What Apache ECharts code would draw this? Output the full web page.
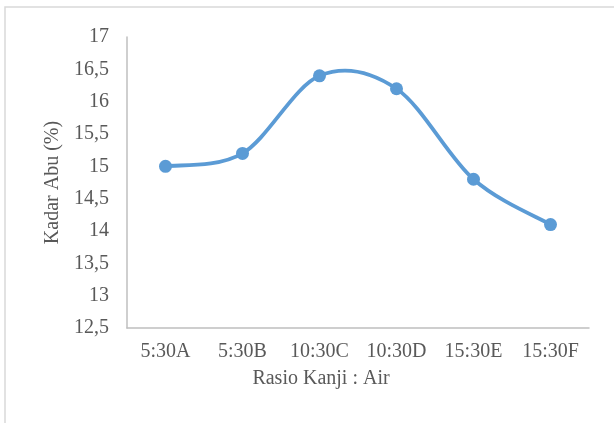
<!DOCTYPE html>
<html>
<head>
<meta charset="utf-8">
<script src="https://cdn.jsdelivr.net/npm/echarts@6/dist/echarts.min.js"></script>
<style>
html,body{margin:0;padding:0;background:#fff;}
#chart{width:614px;height:423px;}
</style>
</head>
<body>
<div id="chart"></div>
<script>
const categories = ['5:30A', '5:30B', '10:30C', '10:30D', '15:30E', '15:30F'];
const kadarAbu = [15.0, 15.2, 16.4, 16.2, 14.8, 14.1];
const xTitle = 'Rasio Kanji : Air';
const yTitle = 'Kadar Abu (%)';

const FONT = '"Liberation Serif", "Times New Roman", serif';
const TXT = '#595959';
const BLUE = '#5b9bd5';

// Excel-like smoothed line (Catmull-Rom through the data points, via the axis scales)
function renderSmooth(params, api) {
  if (params.dataIndex !== 0) return null;
  const pts = kadarAbu.map((v, i) => api.coord([i, v]));
  const t = 1 / 6;
  let d = 'M' + pts[0][0] + ' ' + pts[0][1];
  for (let i = 0; i < pts.length - 1; i++) {
    const p0 = pts[i - 1] || pts[i];
    const p1 = pts[i];
    const p2 = pts[i + 1];
    const p3 = pts[i + 2] || p2;
    const c1 = [p1[0] + (p2[0] - p0[0]) * t, p1[1] + (p2[1] - p0[1]) * t];
    const c2 = [p2[0] - (p3[0] - p1[0]) * t, p2[1] - (p3[1] - p1[1]) * t];
    d += ' C' + c1[0] + ' ' + c1[1] + ' ' + c2[0] + ' ' + c2[1] + ' ' + p2[0] + ' ' + p2[1];
  }
  return {
    type: 'path',
    shape: {pathData: d},
    style: {fill: 'none', stroke: BLUE, lineWidth: 3.8, lineCap: 'round', lineJoin: 'round'}
  };
}

const chart = echarts.init(document.getElementById('chart'), null, {renderer: 'canvas'});
chart.setOption({
  animation: false,
  backgroundColor: '#ffffff',
  grid: {left: 127, top: 37, right: 25, bottom: 95, containLabel: false},
  xAxis: {
    type: 'category',
    data: categories,
    boundaryGap: true,
    axisLine: {lineStyle: {color: '#bfbfbf', width: 1.5}},
    axisTick: {show: false},
    axisLabel: {color: TXT, fontFamily: FONT, fontSize: 20, margin: 14, interval: 0}
  },
  yAxis: {
    type: 'value',
    min: 12.5, max: 17, interval: 0.5,
    name: yTitle,
    nameLocation: 'middle',
    nameRotate: 90,
    nameGap: 60,
    nameTextStyle: {color: TXT, fontFamily: FONT, fontSize: 20},
    axisLine: {show: true, lineStyle: {color: '#bfbfbf', width: 1.5}},
    axisTick: {show: false},
    splitLine: {show: false},
    axisLabel: {
      color: TXT, fontFamily: FONT, fontSize: 20, margin: 18,
      formatter: v => String(v).replace('.', ',')
    }
  },
  graphic: [
    {type: 'rect', silent: true, shape: {x: 5, y: 7, width: 800, height: 600},
     style: {fill: 'none', stroke: '#d9d9d9', lineWidth: 1.5}},
    {type: 'text', silent: true, x: 321, y: 379,
     style: {text: xTitle, fill: TXT, font: '20px ' + FONT, align: 'center', verticalAlign: 'middle'}}
  ],
  series: [
    {
      type: 'custom',
      data: kadarAbu.map((v, i) => [i, v]),
      renderItem: renderSmooth,
      z: 2
    },
    {
      type: 'line',
      data: kadarAbu,
      symbol: 'circle',
      symbolSize: 13,
      lineStyle: {width: 0, opacity: 0},
      itemStyle: {color: BLUE},
      z: 3
    }
  ]
});
</script>
</body>
</html>
